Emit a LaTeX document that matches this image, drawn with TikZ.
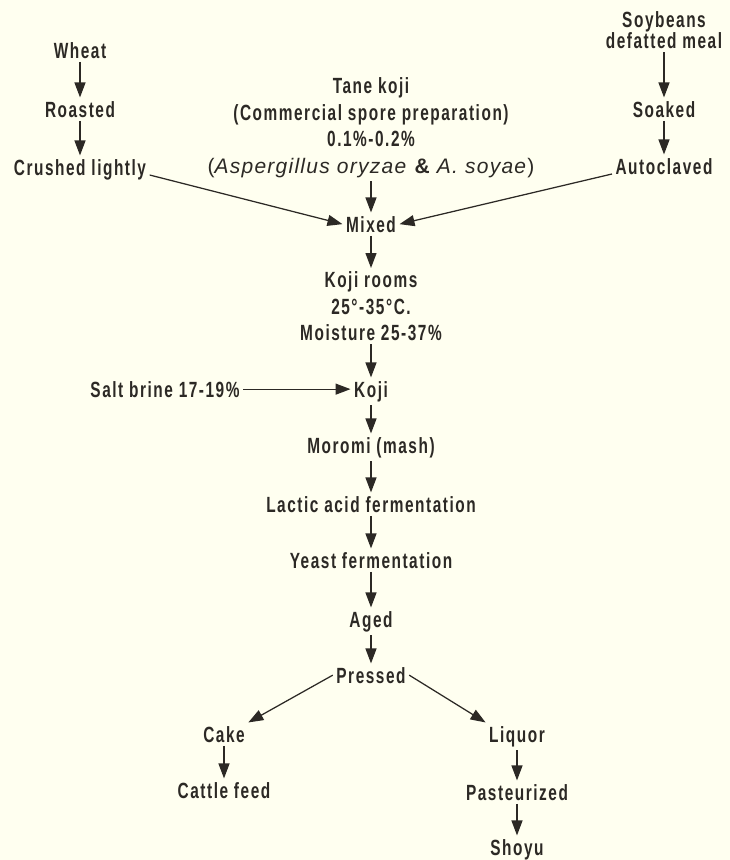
\documentclass[tikz,border=0pt]{standalone}
\usepackage{fontspec}
\usetikzlibrary{arrows.meta}
\usetikzlibrary{backgrounds}

\newfontfamily\flowfont[FakeStretch=0.7,LetterSpace=7]{Liberation Sans}
\newfontfamily\latinfont[LetterSpace=6]{Liberation Sans}
\definecolor{paper}{RGB}{255,255,240}
\definecolor{ink}{RGB}{44,41,37}

\begin{document}
\begin{tikzpicture}[->,>={Triangle[length=15pt,width=11pt]},x=1pt,y=-1pt,line width=1.25pt,color=ink,
  background rectangle/.style={fill=paper},show background rectangle,inner frame sep=0pt]
\tikzset{stage/.style={font={\flowfont\bfseries\fontsize{22}{26.5}\selectfont},inner sep=3pt,anchor=base}}
\tikzset{block/.style={stage,align=center,anchor=north}}

\useasboundingbox (0,0) rectangle (730,860);

% wheat side
\node[stage] (wheat) at (80,58) {Wheat};
\node[stage] (roasted) at (80,117) {Roasted};
\node[stage] (crushed) at (80,175) {Crushed lightly};

% soybean side
\node[block,font={\flowfont\bfseries\fontsize{22}{21}\selectfont}] (soy) at (664,8) {Soybeans\\defatted meal};
\node[stage] (soaked) at (664,117) {Soaked};
\node[stage] (autoclaved) at (664,174) {Autoclaved};

% spores
\node[block] (tane) at (371,74) {Tane koji\\(Commercial spore preparation)\\0.1\%-0.2\%\\
  {\latinfont\mdseries\fontsize{21}{26.5}\selectfont(\textit{Aspergillus oryzae} {\bfseries\&} \textit{A. soyae})}};

% main line
\node[stage] (mixed) at (371,232) {Mixed};
\node[block] (rooms) at (371,268) {Koji rooms\\25°-35°C.\\Moisture 25-37\%};
\node[stage] (koji) at (371,397) {Koji};
\node[stage] (brine) at (165,397) {Salt brine 17-19\%};
\node[stage] (moromi) at (371,453) {Moromi (mash)};
\node[stage] (lactic) at (371,512) {Lactic acid fermentation};
\node[stage] (yeast) at (371,568) {Yeast fermentation};
\node[stage] (aged) at (371,627) {Aged};
\node[stage] (pressed) at (371,683) {Pressed};

% products
\node[stage] (cake) at (224,742) {Cake};
\node[stage] (cattle) at (224,798) {Cattle feed};
\node[stage] (liquor) at (517,742) {Liquor};
\node[stage] (pasteurized) at (517,800) {Pasteurized};
\node[stage] (shoyu) at (517,855) {Shoyu};

\draw (wheat) -- (roasted);
\draw (roasted) -- (crushed);
\draw (soy) -- (soaked);
\draw (soaked) -- (autoclaved);
\draw (crushed.base east) -- (mixed.west);
\draw (autoclaved.base west) -- (mixed.east);
\draw (tane) -- (mixed);
\draw (mixed) -- (rooms);
\draw (rooms) -- (koji);
\draw (brine.east) -- (koji.west |- brine.east);
\draw (koji) -- (moromi);
\draw (moromi) -- (lactic);
\draw (lactic) -- (yeast);
\draw (yeast) -- (aged);
\draw (aged) -- (pressed);
\draw (pressed.west) -- (cake.north east);
\draw (pressed.east) -- (liquor.north west);
\draw (cake) -- (cattle);
\draw (liquor) -- (pasteurized);
\draw (pasteurized) -- (shoyu);

\end{tikzpicture}
\end{document}
